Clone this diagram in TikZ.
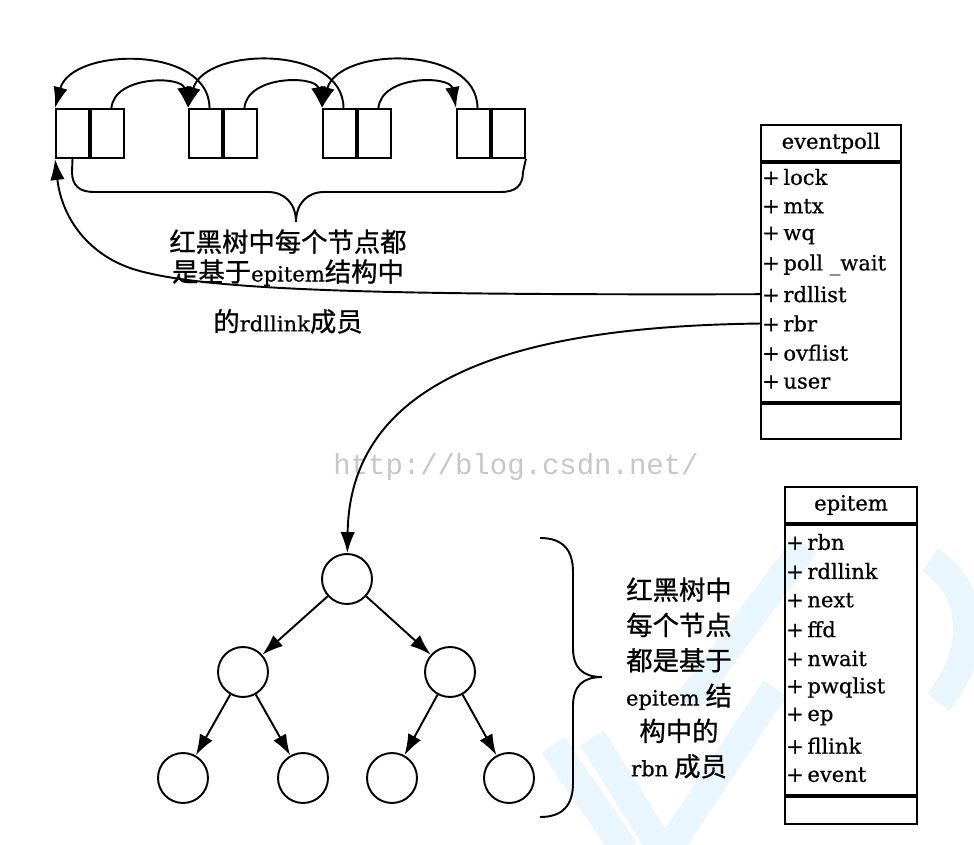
\documentclass[tikz,border=0pt]{standalone}
\usepackage{fontspec}
\setmainfont[FakeBold=0.6]{DejaVu Serif}
\newfontfamily\cjk[FakeBold=0.8]{Noto Sans CJK SC}
\setmonofont{Liberation Mono}
\usepackage{tikz}
\usetikzlibrary{arrows.meta, positioning}

\definecolor{wmblue}{RGB}{233,246,253}
\newcommand\eng[1]{{\rmfamily\fontsize{12}{17}\selectfont #1}}

\tikzset{
  wire/.style={line width=1.1pt},
  link/.style={wire, -{Latex[length=4.2mm,width=2.9mm]}},
  cell/.style={draw, wire, minimum width=0.66cm, minimum height=0.98cm, inner sep=0pt},
  vertex/.style={draw, wire, circle, minimum size=1cm, inner sep=0pt},
  classhead/.style={draw, wire, inner sep=0pt, font=\fontsize{12}{15}\selectfont},
  classpart/.style={draw, wire, inner sep=0pt},
  member/.style={anchor=west, inner sep=0.5pt, font=\fontsize{12}{15}\selectfont},
  note/.style={align=center, inner sep=0pt, font=\cjk\fontsize{15}{17}\selectfont},
}

\begin{document}
\begin{tikzpicture}[x=0.02cm, y=-0.02cm]
    \useasboundingbox (0,0) rectangle (974,845);

    % blue watermark strokes
    \begin{scope}[wmblue, line width=0.56cm]
        \draw (553,745) -- (625,850);
        \draw (592,738) -- (662,850);
        \draw (668,850) -- (775,688);
        \draw (688,702) -- (805,545);
        \draw (930,560) .. controls (978,590) and (978,655) .. (938,702);
    \end{scope}

    % watermark text
    \node[text=black!22, font=\ttfamily\fontsize{16.5}{18}\selectfont] (wmark) at (516,467) {http://blog.csdn.net/};

    % rdllist cells
    \foreach \x [count=\i] in {56,189,323,457} {
        \node[cell] (l\i) at (\x+16.5,133.5) {};
        \node[cell, right=0pt of l\i] (r\i) {};
    }
    \foreach \i/\j in {1/2,2/3,3/4} {
        \draw[link] ([xshift=0.08cm]r\i.north) to[out=85,in=100,looseness=1.1] (l\j.north west);
        \draw[link] ([xshift=0.08cm]l\j.north) to[out=90,in=75,looseness=1.05] (l\i.north west);
    }

    % brace under the list
    \coordinate (ltip) at (296,222);
    \draw[wire] (l1.south) -- (72,172) .. controls (72,186) and (80,192) .. (94,192) -- (268,192)
        .. controls (285,192) and (296,204) .. (ltip);
    \draw[wire] (r4.south east) -- (523,172) .. controls (523,186) and (515,192) .. (501,192) -- (324,192)
        .. controls (307,192) and (296,204) .. (ltip);
    \node[note, anchor=north] (listnote) at (288,229)
        {红黑树中每个节点都\\是基于\eng{epitem}结构中\\[0.4cm]的\eng{rdllink}成员};

    % eventpoll
    \node[classhead, minimum width=2.8cm, minimum height=0.72cm] (evp) at (831,143) {eventpoll};
    \node[classpart, minimum width=2.8cm, minimum height=4.78cm, below=0pt of evp] (evpbody) {};
    \node[classpart, minimum width=2.8cm, minimum height=0.7cm, below=0pt of evpbody] (evpfoot) {};
    \foreach \f [count=\i] in {lock,mtx,wq,poll \_wait,rdllist,rbr,ovflist,user}
        \node[member] (evp\i) at (761,147.7+29.3*\i) {+\,\f};

    % epitem
    \node[classhead, minimum width=2.64cm, minimum height=0.72cm] (epi) at (851,505) {epitem};
    \node[classpart, minimum width=2.64cm, minimum height=5.4cm, below=0pt of epi] (epibody) {};
    \node[classpart, minimum width=2.64cm, minimum height=0.54cm, below=0pt of epibody] (epifoot) {};
    \foreach \f [count=\i] in {rbn,rdllink,next,ffd,nwait,pwqlist,ep,fllink,event}
        \node[member] (epi\i) at (785,512.9+29.1*\i) {+\,\f};

    % red-black tree
    \node[vertex] (root) at (347,579) {};
    \node[vertex] (n1) at (243,672) {};
    \node[vertex] (n2) at (450,672) {};
    \node[vertex] (n3) at (183,778) {};
    \node[vertex] (n4) at (303,778) {};
    \node[vertex] (n5) at (392,778) {};
    \node[vertex] (n6) at (509,778) {};
    \foreach \a/\b in {root/n1,root/n2,n1/n3,n1/n4,n2/n5,n2/n6}
        \draw[link] (\a) -- (\b);

    % brace beside the tree
    \coordinate (rtip) at (602,677);
    \draw[wire] (540,538) .. controls (563,538) and (573,550) .. (573,572) -- (573,648)
        .. controls (573,668) and (583,677) .. (rtip)
        .. controls (583,677) and (573,686) .. (573,706) -- (573,783)
        .. controls (573,805) and (563,817) .. (540,817);
    \node[note, font=\cjk\fontsize{15}{20.1}\selectfont] (treenote) at (679,678)
        {红黑树中\\每个节点\\都是基于\\\eng{epitem} 结\\构中的\\\eng{rbn} 成员};

    % links out of eventpoll
    \draw[link] (evp5.west) .. controls (400,295) and (200,292) .. (130,268)
        .. controls (90,254) and (62,220) .. (l1.south west);
    \draw[link] (evp6.west) .. controls (560,326) and (350,360) .. (root);
\end{tikzpicture}
\end{document}
